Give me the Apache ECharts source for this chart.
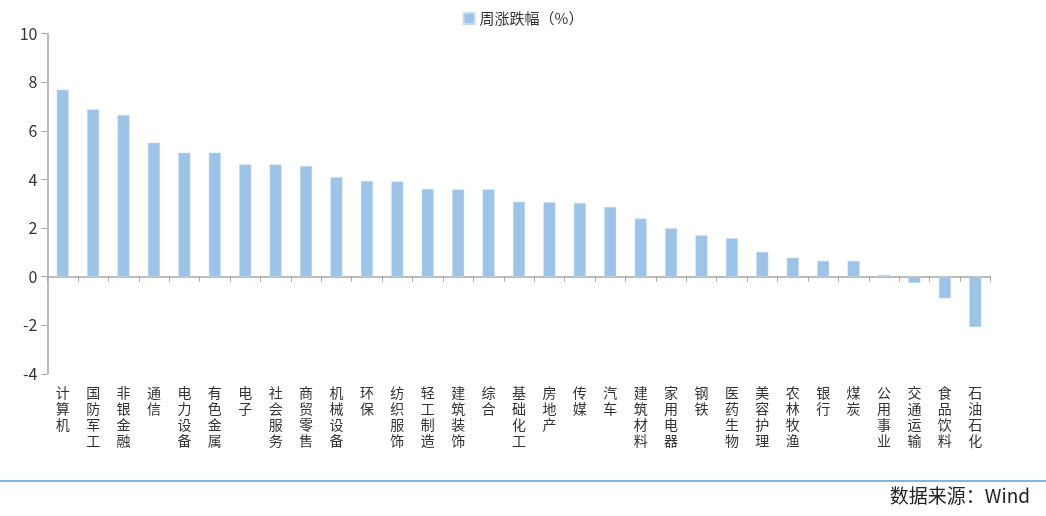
<!DOCTYPE html>
<html>
<head>
<meta charset="utf-8">
<script src="https://cdn.jsdelivr.net/npm/echarts@6/dist/echarts.min.js"></script>
<style>
  html, body { margin: 0; padding: 0; background: #fff; }
  #chart { width: 1046px; height: 516px; }
</style>
</head>
<body>
<div id="chart"></div>
<script>
// 行业名称
var categories = ['计算机', '国防军工', '非银金融', '通信', '电力设备', '有色金属', '电子', '社会服务',
    '商贸零售', '机械设备', '环保', '纺织服饰', '轻工制造', '建筑装饰', '综合', '基础化工', '房地产',
    '传媒', '汽车', '建筑材料', '家用电器', '钢铁', '医药生物', '美容护理', '农林牧渔', '银行', '煤炭',
    '公用事业', '交通运输', '食品饮料', '石油石化'];
// 周涨跌幅（%）
var weeklyChange = [7.69, 6.88, 6.65, 5.51, 5.10, 5.10, 4.61, 4.61, 4.55, 4.09, 3.94, 3.91, 3.61, 3.59,
    3.59, 3.08, 3.06, 3.03, 2.87, 2.39, 1.99, 1.70, 1.58, 1.02, 0.78, 0.65, 0.65, 0.07, -0.26, -0.89, -2.07];
var yTicks = [-4, -2, 0, 2, 4, 6, 8, 10];

var font = '"Noto Sans CJK SC", "Noto Sans", sans-serif';
var chart = echarts.init(document.getElementById('chart'));

var option = {
    backgroundColor: '#fff',
    textStyle: { fontFamily: font },
    legend: {
        top: 6,
        left: 'center',
        icon: 'rect',
        itemWidth: 11,
        itemHeight: 11,
        itemGap: 6,
        textStyle: { fontSize: 15, color: '#333', fontFamily: font },
        data: ['周涨跌幅（%）']
    },
    grid: {
        left: 47.5,
        right: 55.5,
        top: 33.5,
        bottom: 142
    },
    xAxis: [{
        // 零轴：只画线和刻度
        type: 'category',
        data: categories,
        axisLine: { onZero: true, lineStyle: { color: '#a6a6a6', width: 1.5 } },
        axisTick: { show: true, interval: 0, length: 5, lineStyle: { color: '#a6a6a6' } },
        axisLabel: { show: false, interval: 0 }
    }, {
        // 底部：只显示竖排标签
        type: 'category',
        data: categories,
        position: 'bottom',
        axisLine: { show: false, onZero: false },
        axisTick: { show: false },
        axisLabel: {
            interval: 0,
            margin: 11,
            fontSize: 14,
            lineHeight: 16,
            color: '#333',
            verticalAlign: 'top',
            formatter: function (v) { return v.split('').join('\n'); }
        }
    }],
    yAxis: {
        type: 'value',
        min: yTicks[0],
        max: yTicks[yTicks.length - 1],
        interval: 2,
        splitLine: { show: false },
        axisLine: { show: true, lineStyle: { color: '#a6a6a6', width: 1.5 } },
        axisTick: { show: true, length: 6, lineStyle: { color: '#a6a6a6' } },
        axisLabel: { fontSize: 16, color: '#333', margin: 10 }
    },
    series: [{
        name: '周涨跌幅（%）',
        type: 'bar',
        barWidth: 12,
        data: weeklyChange,
        itemStyle: { color: '#9dc3e6', borderColor: '#c6dcf0', borderWidth: 0.5 }
    }],
    graphic: [{
        type: 'line',
        shape: { x1: 0, y1: 481, x2: 1046, y2: 481 },
        style: { stroke: '#5b9bd5', lineWidth: 1.5 }
    }, {
        type: 'text',
        right: 16,
        top: 486,
        style: { text: '数据来源：Wind', fontSize: 19, fill: '#222', fontFamily: font }
    }]
};

chart.setOption(option);
</script>
</body>
</html>
